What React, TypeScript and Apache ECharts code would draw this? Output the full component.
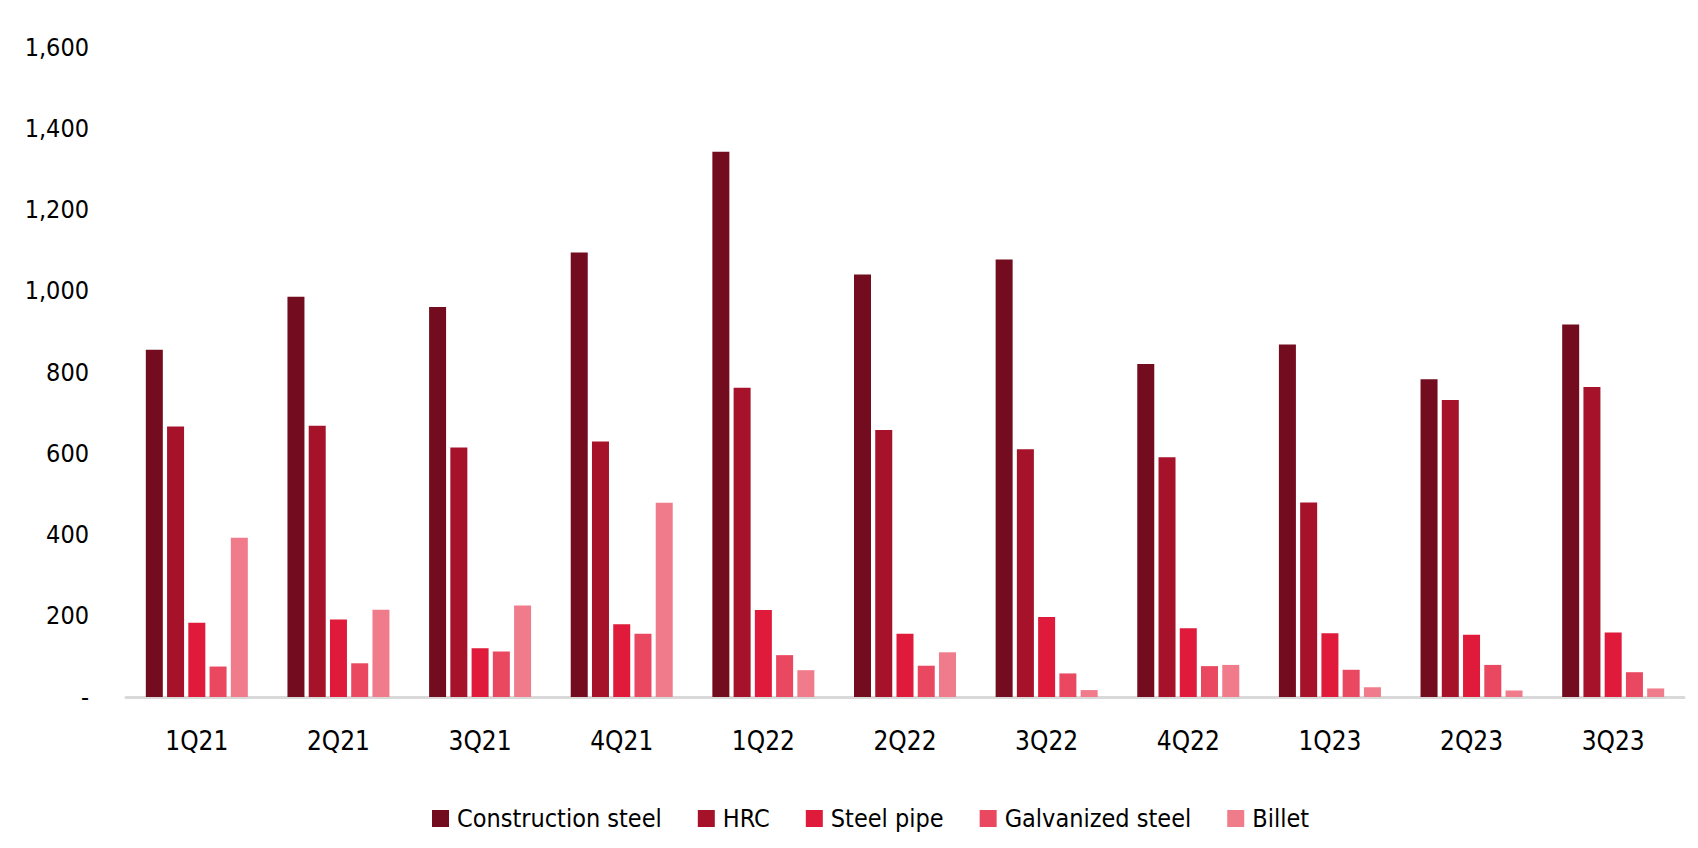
import React, { useEffect, useRef } from "react";
import * as echarts from "echarts";

const categories = ["1Q21", "2Q21", "3Q21", "4Q21", "1Q22", "2Q22", "3Q22", "4Q22", "1Q23", "2Q23", "3Q23"];
const seriesNames = ["Construction steel", "HRC", "Steel pipe", "Galvanized steel", "Billet"];
const constructionSteel = [855, 985, 960, 1094, 1342, 1040, 1077, 820, 868, 782, 917];
const hrc = [666, 668, 614, 629, 761, 657, 610, 590, 479, 731, 763];
const steelPipe = [183, 191, 120, 179, 214, 156, 197, 169, 157, 153, 159];
const galvanizedSteel = [75, 83, 112, 156, 103, 77, 58, 76, 67, 79, 61];
const billet = [392, 215, 225, 478, 66, 110, 17, 79, 24, 16, 21];
const yTicks = [0, 200, 400, 600, 800, 1000, 1200, 1400, 1600];

const colors = ["#720C1E", "#A51229", "#E01A3B", "#EA4760", "#F07B8B"];
const FONT = "'Liberation Sans Narrow', 'Arial Narrow', 'DejaVu Sans Condensed', sans-serif";

export default function App() {
  const ref = useRef<HTMLDivElement>(null);
  useEffect(() => {
    if (!ref.current) return;
    const chart = echarts.init(ref.current, undefined, { renderer: "svg" });
    const values = [constructionSteel, hrc, steelPipe, galvanizedSteel, billet];
    chart.setOption({
      animation: false,
      color: colors,
      grid: { left: 126, right: 14, top: 47, bottom: 151, containLabel: false },
      legend: {
        data: seriesNames,
        left: 427,
        top: 801,
        itemWidth: 17,
        itemHeight: 17,
        itemGap: 36,
        icon: "rect",
        textStyle: { fontFamily: FONT, fontSize: 25, color: "#000", padding: [0, 0, 0, 3] },
      },
      xAxis: {
        type: "category",
        data: categories,
        axisLine: { show: true, lineStyle: { color: "#D9D9D9", width: 3 } },
        axisTick: { show: false },
        axisLabel: { fontFamily: FONT, fontSize: 26, color: "#000", margin: 31 },
      },
      yAxis: {
        type: "value",
        min: yTicks[0],
        max: yTicks[yTicks.length - 1],
        interval: 200,
        axisLine: { show: false },
        axisTick: { show: false },
        splitLine: { show: false },
        axisLabel: {
          fontFamily: FONT,
          fontSize: 25,
          color: "#000",
          margin: 37,
          formatter: (v: number) => (v === 0 ? "-" : v.toLocaleString("en-US")),
        },
      },
      series: seriesNames.map((name, i) => ({
        name,
        type: "bar",
        data: values[i],
        barWidth: 17,
        barGap: "25%",
        itemStyle: { color: colors[i] },
      })),
    });
    return () => chart.dispose();
  }, []);
  return <div ref={ref} style={{ width: 1698, height: 848, position: "absolute", left: 0, top: 0 }} />;
}
